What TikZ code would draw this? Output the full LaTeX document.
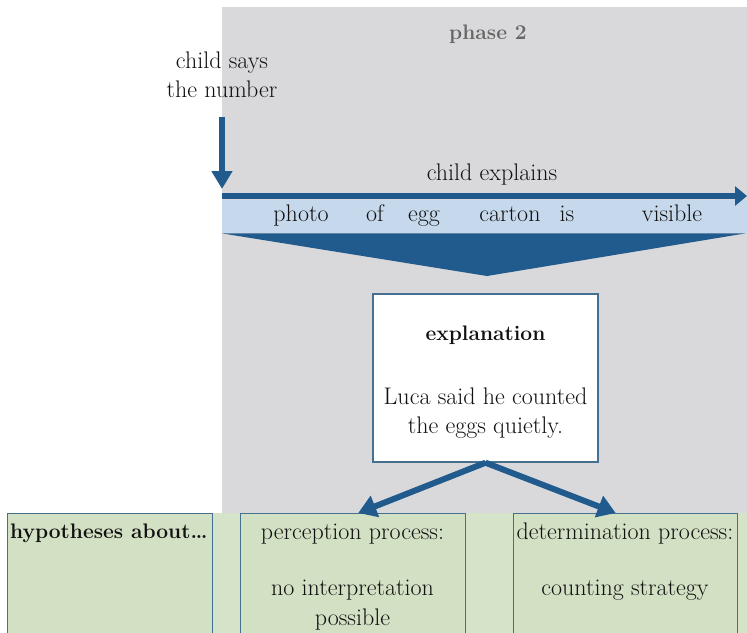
\documentclass[tikz,border=0pt]{standalone}
\usetikzlibrary{arrows.meta,calc}
\definecolor{phasegray}{HTML}{D9D9DB}
\definecolor{darkblue}{HTML}{215A8C}
\definecolor{bandblue}{HTML}{C6D9EC}
\definecolor{bandgreen}{HTML}{D5E3C9}
\definecolor{boxgreen}{HTML}{D2E0C4}
\definecolor{boxline}{HTML}{46708F}
\definecolor{txt}{HTML}{111111}
\definecolor{phasetxt}{HTML}{666666}
\tikzset{
  lbl/.style={font=\fontsize{24}{29}\selectfont, text=txt, inner sep=0pt, align=center, anchor=base},
  boldlbl/.style={lbl, font=\fontsize{21}{26}\selectfont\bfseries},
  greenbox/.style={draw=boxline, line width=1.4pt, fill=boxgreen, anchor=north west, inner sep=0pt},
  bigarrow/.style={draw=darkblue, line width=6pt, -{Triangle[width=22pt,length=18pt]}},
}
\begin{document}
\begin{tikzpicture}[x=1pt,y=-1pt]
\useasboundingbox (0,0) rectangle (747,632);
\clip (0,0) rectangle (747,632);
% phase background
\fill[phasegray] (222,7) rectangle (747,513);
\fill[bandgreen] (7,513) rectangle (747,640);
\node[boldlbl, text=phasetxt] (phase) at (488,39) {phase 2};
% child says the number
\node[lbl] (says1) at (222,68) {child says};
\node[lbl] (says2) at (222,97) {the number};
\coordinate (downstart) at (222,117);
\coordinate (downend) at (222,189);
\draw[draw=darkblue, line width=6pt, -{Triangle[width=20pt,length=18pt]}] (downstart) -- (downend);
% child explains arrow and band
\node[lbl] (explains) at (492,180) {child explains};
\node[fill=bandblue, minimum width=525pt, minimum height=33pt, inner sep=0pt, anchor=north west] (band) at (222,200) {};
\coordinate (hstart) at (222,196);
\coordinate (hend) at (747,196);
\draw[draw=darkblue, line width=6.5pt, -{Triangle[width=19pt,length=12pt]}] (hstart) -- (hend);
\node[lbl] (w1) at (301,221) {photo};
\node[lbl] (w2) at (375,221) {of};
\node[lbl] (w3) at (424,221) {egg};
\node[lbl] (w4) at (510,221) {carton};
\node[lbl] (w5) at (567,221) {is};
\node[lbl] (w6) at (672,221) {visible};
% funnel
\fill[darkblue] (band.south west) -- ($(band.south east)+(-2,0)$) -- (487,276) -- cycle;
% explanation box
\node[draw=boxline, line width=1.4pt, fill=white, minimum width=225pt, minimum height=168pt, inner sep=0pt] (expl) at (485.5,378) {};
\node[boldlbl] (expl1) at (485.5,340) {explanation};
\node[lbl] (expl2) at (485.5,404) {Luca said he counted};
\node[lbl] (expl3) at (485.5,433) {the eggs quietly.};
% green boxes
\node[greenbox, minimum width=205pt, minimum height=130pt] (hyp) at (7,513) {};
\node[greenbox, minimum width=225pt, minimum height=130pt] (perc) at (240,513) {};
\node[greenbox, minimum width=224pt, minimum height=130pt] (det) at (513,513) {};
\node[boldlbl, anchor=base west] (hyptxt) at (10,538) {hypotheses about\dots};
\node[lbl] (perctxt1) at (352.5,539) {perception process:};
\node[lbl] (perctxt2) at (352.5,595) {no interpretation};
\node[lbl] (perctxt3) at (352.5,625) {possible};
\node[lbl] (dettxt1) at (625,539) {determination process:};
\node[lbl] (dettxt2) at (625,595) {counting strategy};
% arrows from explanation
\draw[bigarrow] (expl.south) -- ($(perc.north)+(5,0)$);
\draw[bigarrow] (expl.south) -- ($(det.north)+(-10,0)$);
\end{tikzpicture}
\end{document}
